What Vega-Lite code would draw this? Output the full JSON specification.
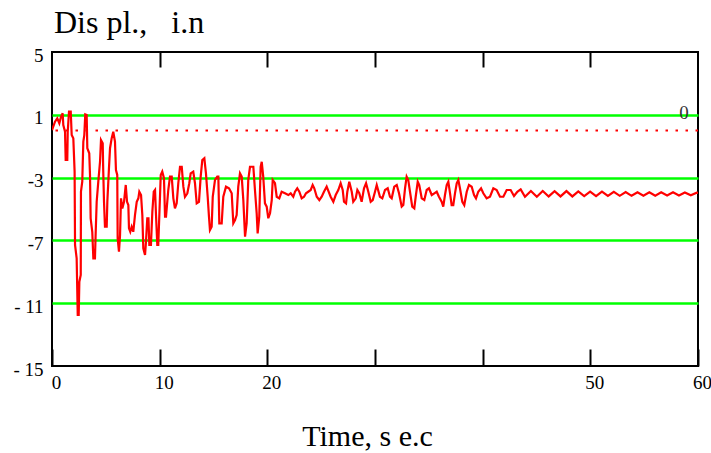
{
  "$schema": "https://vega.github.io/schema/vega-lite/v6.json",
  "width": 646,
  "height": 314,
  "autosize": {"type": "none"},
  "padding": {"left": 52, "top": 52, "right": 13, "bottom": 87},
  "background": "white",
  "config": {
    "view": {"stroke": "black", "strokeWidth": 2},
    "font": "Liberation Serif"
  },
  "title": {
    "text": "Dis pl.,\u00a0\u00a0 i.n",
    "anchor": "start",
    "frame": "group",
    "fontSize": 32,
    "font": "Liberation Serif",
    "fontWeight": "normal",
    "color": "black",
    "baseline": "alphabetic",
    "offset": 20,
    "dx": 2,
    "dy": 39
  },
  "datasets": {
    "disp": [
      {"t": 0, "v": 0.03}, {"t": 0.28, "v": 0.56}, {"t": 0.49, "v": 0.78}, {"t": 0.68, "v": 0.46},
      {"t": 0.84, "v": 0.88}, {"t": 0.99, "v": 1.1}, {"t": 1.05, "v": 0.35}, {"t": 1.21, "v": -0.08},
      {"t": 1.27, "v": -1.88}, {"t": 1.42, "v": -1.88}, {"t": 1.46, "v": -0.08}, {"t": 1.58, "v": 1.2},
      {"t": 1.74, "v": 1.2}, {"t": 1.83, "v": -0.29}, {"t": 1.98, "v": -0.5}, {"t": 2.04, "v": -1.56},
      {"t": 2.1, "v": -2.62}, {"t": 2.14, "v": -7.29}, {"t": 2.29, "v": -8.14}, {"t": 2.39, "v": -11.75},
      {"t": 2.48, "v": -11.75}, {"t": 2.54, "v": -9.63}, {"t": 2.67, "v": -9.2}, {"t": 2.69, "v": -3.9},
      {"t": 2.81, "v": -3.26}, {"t": 2.91, "v": -0.71}, {"t": 3.0, "v": -0.29}, {"t": 3.09, "v": 1.03},
      {"t": 3.22, "v": 0.99}, {"t": 3.28, "v": -1.13}, {"t": 3.46, "v": -1.45}, {"t": 3.53, "v": -2.83},
      {"t": 3.59, "v": -5.59}, {"t": 3.74, "v": -6.45}, {"t": 3.84, "v": -8.14}, {"t": 3.99, "v": -8.14},
      {"t": 4.06, "v": -6.45}, {"t": 4.15, "v": -4.54}, {"t": 4.3, "v": -3.26}, {"t": 4.46, "v": -1.99},
      {"t": 4.55, "v": -0.61}, {"t": 4.71, "v": -0.82}, {"t": 4.76, "v": -2.62}, {"t": 4.83, "v": -4.54},
      {"t": 4.92, "v": -6.13}, {"t": 5.08, "v": -6.13}, {"t": 5.14, "v": -4.54}, {"t": 5.29, "v": -2.41},
      {"t": 5.39, "v": -1.13}, {"t": 5.54, "v": -0.5}, {"t": 5.69, "v": -0.08}, {"t": 5.85, "v": -0.71},
      {"t": 5.94, "v": -2.52}, {"t": 6.06, "v": -2.83}, {"t": 6.1, "v": -6.87}, {"t": 6.22, "v": -7.72},
      {"t": 6.32, "v": -6.66}, {"t": 6.41, "v": -4.32}, {"t": 6.53, "v": -4.96}, {"t": 6.69, "v": -4.54},
      {"t": 6.85, "v": -3.47}, {"t": 6.97, "v": -4.54}, {"t": 7.09, "v": -4.75}, {"t": 7.15, "v": -6.23},
      {"t": 7.27, "v": -6.45}, {"t": 7.4, "v": -6.13}, {"t": 7.55, "v": -6.45}, {"t": 7.71, "v": -5.38},
      {"t": 7.87, "v": -4.54}, {"t": 8.02, "v": -4.32}, {"t": 8.11, "v": -3.9}, {"t": 8.27, "v": -4.11},
      {"t": 8.39, "v": -5.38}, {"t": 8.48, "v": -7.5}, {"t": 8.64, "v": -7.93}, {"t": 8.73, "v": -7.08},
      {"t": 8.85, "v": -5.59}, {"t": 8.96, "v": -5.59}, {"t": 9.04, "v": -7.29}, {"t": 9.19, "v": -7.29},
      {"t": 9.32, "v": -5.17}, {"t": 9.45, "v": -3.9}, {"t": 9.57, "v": -3.79}, {"t": 9.66, "v": -5.38},
      {"t": 9.78, "v": -7.29}, {"t": 9.87, "v": -7.29}, {"t": 9.97, "v": -5.38}, {"t": 10.1, "v": -2.83},
      {"t": 10.24, "v": -2.62}, {"t": 10.4, "v": -3.04}, {"t": 10.5, "v": -5.49}, {"t": 10.59, "v": -5.49},
      {"t": 10.8, "v": -3.79}, {"t": 10.96, "v": -2.94}, {"t": 11.12, "v": -2.94}, {"t": 11.27, "v": -4.32},
      {"t": 11.42, "v": -4.96}, {"t": 11.58, "v": -4.64}, {"t": 11.73, "v": -3.36}, {"t": 11.89, "v": -2.31},
      {"t": 12.05, "v": -2.31}, {"t": 12.2, "v": -3.58}, {"t": 12.35, "v": -4.22}, {"t": 12.57, "v": -4.0},
      {"t": 12.75, "v": -3.36}, {"t": 12.88, "v": -2.73}, {"t": 13.12, "v": -2.62}, {"t": 13.28, "v": -3.36},
      {"t": 13.44, "v": -4.64}, {"t": 13.65, "v": -4.54}, {"t": 13.81, "v": -2.94}, {"t": 13.96, "v": -1.88},
      {"t": 14.15, "v": -1.77}, {"t": 14.3, "v": -2.73}, {"t": 14.46, "v": -4.22}, {"t": 14.58, "v": -5.49},
      {"t": 14.67, "v": -6.34}, {"t": 14.83, "v": -6.13}, {"t": 14.93, "v": -4.22}, {"t": 15.14, "v": -3.15},
      {"t": 15.35, "v": -2.94}, {"t": 15.45, "v": -2.94}, {"t": 15.54, "v": -5.91}, {"t": 15.76, "v": -5.91},
      {"t": 15.91, "v": -4.22}, {"t": 16.16, "v": -3.58}, {"t": 16.44, "v": -3.68}, {"t": 16.69, "v": -4.0},
      {"t": 16.84, "v": -5.91}, {"t": 17.0, "v": -5.7}, {"t": 17.15, "v": -5.38}, {"t": 17.3, "v": -3.58},
      {"t": 17.46, "v": -2.73}, {"t": 17.62, "v": -2.94}, {"t": 17.77, "v": -4.43}, {"t": 17.93, "v": -6.76},
      {"t": 18.08, "v": -5.91}, {"t": 18.23, "v": -3.15}, {"t": 18.39, "v": -2.31}, {"t": 18.7, "v": -2.31},
      {"t": 18.85, "v": -3.79}, {"t": 19.01, "v": -5.27}, {"t": 19.1, "v": -6.55}, {"t": 19.25, "v": -5.49},
      {"t": 19.38, "v": -2.31}, {"t": 19.48, "v": -1.99}, {"t": 19.62, "v": -2.94}, {"t": 19.78, "v": -4.64},
      {"t": 19.94, "v": -4.85}, {"t": 20.09, "v": -5.59}, {"t": 20.25, "v": -5.27}, {"t": 20.41, "v": -4.43},
      {"t": 20.5, "v": -3.15}, {"t": 20.71, "v": -3.36}, {"t": 20.87, "v": -4.22}, {"t": 21.11, "v": -4.32},
      {"t": 21.33, "v": -3.9}, {"t": 21.64, "v": -4.0}, {"t": 21.95, "v": -4.11}, {"t": 22.17, "v": -4.0},
      {"t": 22.41, "v": -4.22}, {"t": 22.57, "v": -3.9}, {"t": 22.78, "v": -3.68}, {"t": 22.97, "v": -3.9},
      {"t": 23.19, "v": -4.32}, {"t": 23.41, "v": -4.22}, {"t": 23.59, "v": -4.0}, {"t": 23.8, "v": -3.9},
      {"t": 24.03, "v": -3.79}, {"t": 24.21, "v": -3.47}, {"t": 24.36, "v": -3.68}, {"t": 24.59, "v": -4.22},
      {"t": 24.83, "v": -4.43}, {"t": 25.05, "v": -4.22}, {"t": 25.26, "v": -3.9}, {"t": 25.51, "v": -3.58},
      {"t": 25.88, "v": -4.22}, {"t": 26.13, "v": -4.54}, {"t": 26.35, "v": -4.11}, {"t": 26.59, "v": -3.79},
      {"t": 26.81, "v": -3.36}, {"t": 27.0, "v": -3.79}, {"t": 27.12, "v": -4.54}, {"t": 27.31, "v": -4.64},
      {"t": 27.43, "v": -3.9}, {"t": 27.61, "v": -3.26}, {"t": 27.84, "v": -3.9}, {"t": 27.98, "v": -4.54},
      {"t": 28.21, "v": -4.32}, {"t": 28.36, "v": -3.79}, {"t": 28.54, "v": -4.0}, {"t": 28.76, "v": -4.54},
      {"t": 28.98, "v": -3.68}, {"t": 29.17, "v": -3.36}, {"t": 29.38, "v": -3.9}, {"t": 29.6, "v": -4.54},
      {"t": 29.79, "v": -4.43}, {"t": 30.0, "v": -3.9}, {"t": 30.16, "v": -3.47}, {"t": 30.46, "v": -4.22},
      {"t": 30.68, "v": -4.32}, {"t": 30.93, "v": -3.79}, {"t": 31.18, "v": -3.68}, {"t": 31.39, "v": -4.22},
      {"t": 31.55, "v": -4.32}, {"t": 31.79, "v": -3.58}, {"t": 32.02, "v": -3.47}, {"t": 32.23, "v": -4.0},
      {"t": 32.48, "v": -4.85}, {"t": 32.63, "v": -4.75}, {"t": 32.79, "v": -3.68}, {"t": 32.94, "v": -2.94},
      {"t": 33.09, "v": -3.15}, {"t": 33.25, "v": -3.9}, {"t": 33.46, "v": -4.85}, {"t": 33.65, "v": -4.96},
      {"t": 33.78, "v": -4.22}, {"t": 33.97, "v": -3.26}, {"t": 34.11, "v": -3.47}, {"t": 34.34, "v": -4.32},
      {"t": 34.58, "v": -4.43}, {"t": 34.8, "v": -3.79}, {"t": 35.01, "v": -3.68}, {"t": 35.27, "v": -4.11},
      {"t": 35.51, "v": -4.0}, {"t": 35.73, "v": -3.9}, {"t": 35.94, "v": -4.22}, {"t": 36.19, "v": -4.54},
      {"t": 36.34, "v": -4.85}, {"t": 36.5, "v": -4.11}, {"t": 36.66, "v": -3.47}, {"t": 36.81, "v": -3.26},
      {"t": 36.97, "v": -4.0}, {"t": 37.12, "v": -4.75}, {"t": 37.27, "v": -4.75}, {"t": 37.43, "v": -4.0},
      {"t": 37.59, "v": -3.36}, {"t": 37.74, "v": -3.15}, {"t": 37.89, "v": -3.68}, {"t": 38.11, "v": -4.54},
      {"t": 38.29, "v": -4.75}, {"t": 38.52, "v": -3.9}, {"t": 38.73, "v": -3.47}, {"t": 38.98, "v": -3.58},
      {"t": 39.2, "v": -4.11}, {"t": 39.38, "v": -4.32}, {"t": 39.59, "v": -3.9}, {"t": 39.85, "v": -3.68},
      {"t": 40.06, "v": -4.0}, {"t": 40.37, "v": -4.32}, {"t": 40.68, "v": -4.22}, {"t": 40.99, "v": -3.68},
      {"t": 41.3, "v": -3.79}, {"t": 41.61, "v": -4.22}, {"t": 41.92, "v": -4.22}, {"t": 42.23, "v": -3.79},
      {"t": 42.6, "v": -3.79}, {"t": 42.91, "v": -4.17}, {"t": 43.22, "v": -3.9}, {"t": 43.53, "v": -3.75},
      {"t": 43.93, "v": -4.22}, {"t": 44.48, "v": -3.85}, {"t": 45.03, "v": -4.22}, {"t": 45.58, "v": -3.85},
      {"t": 46.13, "v": -4.2}, {"t": 46.68, "v": -3.87}, {"t": 47.23, "v": -4.2}, {"t": 47.78, "v": -3.86},
      {"t": 48.33, "v": -4.2}, {"t": 48.88, "v": -3.88}, {"t": 49.43, "v": -4.18}, {"t": 49.98, "v": -3.9},
      {"t": 50.53, "v": -4.18}, {"t": 51.08, "v": -3.9}, {"t": 51.63, "v": -4.17}, {"t": 52.18, "v": -3.91},
      {"t": 52.73, "v": -4.16}, {"t": 53.28, "v": -3.92}, {"t": 53.83, "v": -4.16}, {"t": 54.38, "v": -3.93},
      {"t": 54.93, "v": -4.15}, {"t": 55.48, "v": -3.93}, {"t": 56.03, "v": -4.15}, {"t": 56.58, "v": -3.94},
      {"t": 57.13, "v": -4.14}, {"t": 57.68, "v": -3.94}, {"t": 58.23, "v": -4.14}, {"t": 58.78, "v": -3.95},
      {"t": 59.33, "v": -4.13}, {"t": 59.88, "v": -3.96}, {"t": 60.0, "v": -3.98}
    ],
    "marker": [{"t": 58.7, "v": 0.73, "label": "0"}]
  },
  "resolve": {"axis": {"x": "independent", "y": "independent"}},
  "layer": [
    {
      "data": {"name": "disp"},
      "mark": {"type": "line", "color": "#ff0000", "strokeWidth": 2.2, "clip": true},
      "encoding": {
        "x": {
          "field": "t", "type": "quantitative",
          "scale": {"domain": [0, 60], "nice": false, "zero": false},
          "axis": {
            "orient": "bottom",
            "values": [0, 10, 20, 30, 40, 50, 60],
            "labelExpr": "datum.value == 30 || datum.value == 40 ? '' : datum.label",
            "labelFont": "Liberation Serif", "labelFontSize": 19, "labelColor": "black",
            "labelAlign": "center", "labelBaseline": "alphabetic", "labelOffset": 4,
            "labelPadding": 39, "labelFlush": false, "labelOverlap": false,
            "tickSize": -17, "tickColor": "black", "tickWidth": 2,
            "domain": false, "grid": false,
            "title": "Time, s e.c",
            "titleFont": "Liberation Serif", "titleFontSize": 30, "titleFontWeight": "normal",
            "titleColor": "black", "titleAlign": "center", "titleBaseline": "alphabetic",
            "titleX": 315, "titleY": 79
          }
        },
        "y": {
          "field": "v", "type": "quantitative",
          "scale": {"domain": [-15, 5], "nice": false, "zero": false},
          "axis": {
            "orient": "left",
            "values": [5, 1, -3, -7, -11, -15],
            "labelExpr": "datum.value <= -10 ? '- ' + abs(datum.value) : (datum.value < 0 ? '-' + abs(datum.value) : '' + datum.value)",
            "labelFont": "Liberation Serif", "labelFontSize": 19, "labelColor": "black",
            "labelBaseline": "alphabetic", "labelOffset": 9, "labelPadding": 9,
            "labelFlush": false, "labelOverlap": false,
            "ticks": false, "domain": false,
            "grid": true, "gridWidth": 2.5,
            "gridColor": {"condition": {"test": "datum.value == 5 || datum.value == -15", "value": "transparent"}, "value": "#00ff00"},
            "title": null
          }
        }
      }
    },
    {
      "data": {"name": "marker"},
      "mark": {"type": "rule", "color": "#ff0000", "strokeWidth": 2, "strokeDash": [2.5, 7.5]},
      "encoding": {
        "y": {"datum": 0, "type": "quantitative", "axis": null}
      }
    },
    {
      "data": {"name": "marker"},
      "mark": {"type": "text", "font": "Liberation Serif", "fontSize": 19, "color": "#333333", "align": "center", "baseline": "alphabetic"},
      "encoding": {
        "x": {
          "field": "t", "type": "quantitative",
          "axis": {
            "orient": "top", "values": [10, 20, 30, 40, 50],
            "labels": false, "domain": false, "grid": false,
            "tickSize": -15, "tickColor": "black", "tickWidth": 2, "title": null
          }
        },
        "y": {"field": "v", "type": "quantitative", "axis": null},
        "text": {"field": "label"}
      }
    }
  ]
}
